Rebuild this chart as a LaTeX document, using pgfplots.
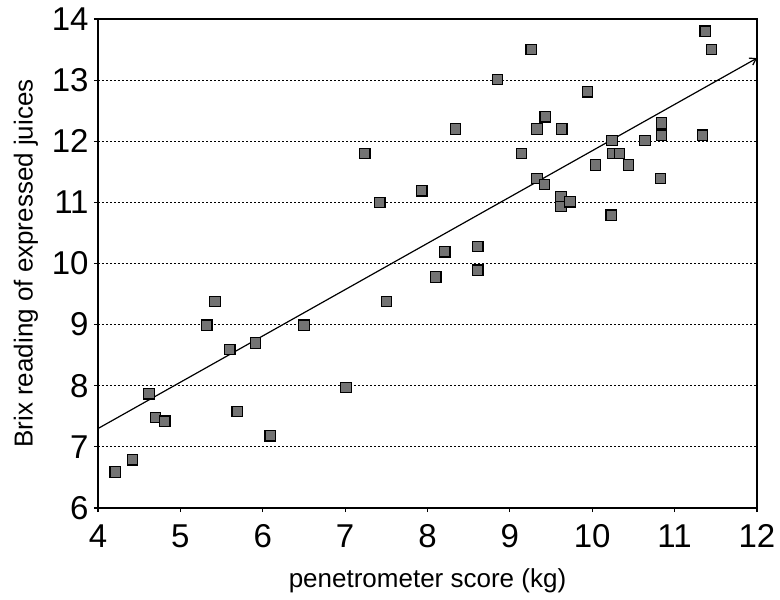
\documentclass[border=0pt]{standalone}
\usepackage{fontspec}
\setmainfont{Liberation Sans}
\usepackage{pgfplots}
\pgfplotsset{compat=1.18}
\usetikzlibrary{arrows.meta}
\pgfplotstableread{
x y
4.21 6.59
4.42 6.79
4.62 7.87
4.70 7.48
4.81 7.42
5.32 8.99
5.42 9.38
5.60 8.59
5.69 7.58
5.91 8.70
6.09 7.18
6.50 8.99
7.01 7.97
7.24 11.80
7.42 11.00
7.50 9.38
7.93 11.19
8.10 9.78
8.21 10.19
8.34 12.20
8.61 10.28
8.61 9.89
8.85 13.01
9.14 11.80
9.26 13.50
9.33 12.20
9.33 11.39
9.42 11.29
9.43 12.40
9.63 12.20
9.62 11.09
9.62 10.93
9.73 11.01
9.94 12.81
10.04 11.61
10.24 12.01
10.25 11.80
10.33 11.80
10.23 10.79
10.44 11.61
10.64 12.01
10.84 12.30
10.84 12.10
10.83 11.39
11.37 13.80
11.45 13.50
11.34 12.10
12.03 12.59
}\brix
\begin{document}
\begin{tikzpicture}
\useasboundingbox (-49pt,-45.5pt) rectangle (341pt,254pt);
\begin{axis}[
  at={(0,0)}, anchor=south west,
  scale only axis, width=329.5pt, height=244.5pt,
  xmin=4, xmax=12, ymin=6, ymax=14,
  xtick={4,5,...,12}, ytick={6,7,...,14},
  xtick pos=bottom, ytick pos=left,
  tick align=outside, major tick length=2pt,
  axis line style={line width=0.7pt},
  every tick/.style={black, line width=0.6pt},
  ymajorgrids,
  major grid style={black, line width=0.45pt, dash pattern=on 1.2pt off 0.8pt},
  /pgf/number format/assume math mode=true,
  ticklabel style={font=\fontsize{16.5}{18}\selectfont},
  xticklabel style={inner sep=0pt, anchor=north, yshift=-6pt},
  yticklabel style={inner sep=0pt, anchor=east, xshift=-2.5pt},
  xlabel={penetrometer score (kg)},
  ylabel={Brix reading of expressed juices},
  label style={font=\fontsize{13}{15}\selectfont},
  xlabel style={at={(axis description cs:0.5,0)}, anchor=base, yshift=-39.8pt, inner sep=0pt},
  ylabel style={at={(axis description cs:-0.0904,0.5)}, anchor=south, rotate=0, inner sep=0pt},
]
\addplot[only marks, mark=square*, mark size=2.6pt,
  mark options={fill=black!55, draw=black, line width=0.6pt}] table[x=x,y=y]{\brix};
\addplot[black, line width=0.6pt, -{Straight Barb[length=3pt,width=4pt]}] coordinates {(4,7.30) (12,13.36)};
\end{axis}
\end{tikzpicture}
\end{document}
